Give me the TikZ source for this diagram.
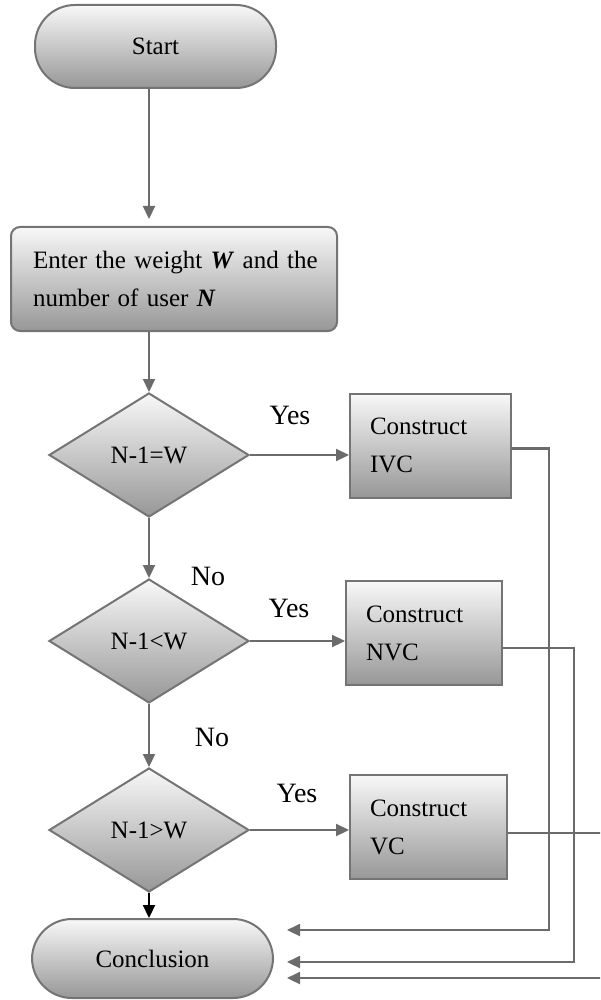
\documentclass[tikz,border=0pt]{standalone}
\usepackage{fontspec}
\setmainfont{Liberation Serif}
\usetikzlibrary{shapes.geometric,arrows.meta}
\definecolor{linegray}{HTML}{6B6B6B}
\definecolor{framegray}{HTML}{747474}
\definecolor{shadetop}{HTML}{F8F8F8}
\definecolor{shadebottom}{HTML}{979797}
\begin{document}
\begin{tikzpicture}[x=1pt,y=-1pt,
  shaded/.style={draw=framegray, line width=2pt, top color=shadetop,
    bottom color=shadebottom, inner sep=0pt, font=\fontsize{25}{38}\selectfont},
  terminal/.style={shaded, rectangle, rounded corners=40pt,
    minimum width=241pt, minimum height=#1},
  inputbox/.style={shaded, rectangle, rounded corners=9pt, minimum height=104pt,
    text width=282pt, inner xsep=22pt, align=left},
  decision/.style={shaded, diamond, minimum width=200pt, minimum height=124pt},
  procbox/.style={shaded, rectangle, minimum height=104pt, text width=#1,
    inner xsep=20pt, align=left},
  flow/.style={draw=linegray, line width=2.2pt,
    -{Triangle[length=13pt,width=12pt]}},
  answer/.style={font=\fontsize{28}{30}\selectfont, inner sep=0pt},
]
\useasboundingbox (0,0) rectangle (600,1000);
\clip (0,0) rectangle (600,1000);

% main column
\node[terminal=83pt] (start) at (155.5,46.5) {Start};
\node[inputbox] (enter) at (174,279)
  {\mbox{Enter the weight \textbf{\textit{W}} and the}\\number of user \textbf{\textit{N}}};
\node[decision] (d1) at (149,455) {N-1=W};
\node[decision] (d2) at (149,641) {N-1<W};
\node[decision] (d3) at (149,830) {N-1>W};
\node[terminal=79pt] (conc) at (152.5,958.5) {Conclusion};

% construction steps
\node[procbox=121pt] (ivc) at (430.5,445.5) {Construct\\IVC};
\node[procbox=116pt] (nvc) at (424,633) {Construct\\NVC};
\node[procbox=117pt] (vc) at (428.5,827) {Construct\\VC};

% branch labels
\node[answer] (yes1) at (290,415) {Yes};
\node[answer] (yes2) at (289,608) {Yes};
\node[answer] (yes3) at (297,793) {Yes};
\node[answer] (no1) at (208,576) {No};
\node[answer] (no2) at (212,737) {No};

% downward flow
\draw[flow, shorten >=7pt] (start.south -| d1.north) -- (enter.north -| d1.north);
\draw[flow] (enter.south -| d1.north) -- (d1.north);
\draw[flow] (d1.south) -- (d2.north);
\draw[flow] (d2.south) -- (d3.north);
\draw[flow, draw=black] (d3.south) -- (d3.south |- conc.north);

% yes branches
\draw[flow] (d1.east) -- (d1.east -| ivc.west);
\draw[flow] (d2.east) -- (d2.east -| nvc.west);
\draw[flow] (d3.east) -- (d3.east -| vc.west);

% return lines to the conclusion
\coordinate (ret1) at (287,930);
\coordinate (ret2) at (287,962);
\coordinate (ret3) at (287,978);
\coordinate (bus1) at (549,0);
\coordinate (bus2) at (574,0);
\coordinate (bus3) at (612,0);
\draw[flow] ([yshift=-3pt]ivc.east) -| (bus1 |- ret1) -- (ret1);
\draw[flow] ([yshift=-15pt]nvc.east) -| (bus2 |- ret2) -- (ret2);
\draw[flow] ([yshift=-6pt]vc.east) -| (bus3 |- ret3) -- (ret3);
\end{tikzpicture}
\end{document}
